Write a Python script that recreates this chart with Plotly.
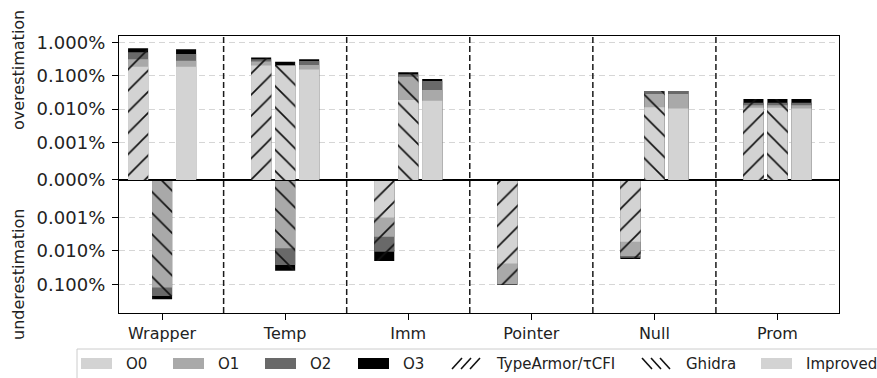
import plotly.graph_objects as go

# ---------------- data (values in %) ----------------
categories = ["Wrapper", "Temp", "Imm", "Pointer", "Null", "Prom"]
levels = ["O0", "O1", "O2", "O3"]
level_colors = ["#d3d3d3", "#a9a9a9", "#696969", "#000000"]
tools = ["TypeArmor/τCFI", "Ghidra", "Improved"]

# overestimation, per optimisation level (increment of each level)
ta_over_O0 = [0.187, 0.203, 0, 0, 0, 0.011]
ta_over_O1 = [0.126, 0.066, 0, 0, 0, 0.002]
ta_over_O2 = [0.194, 0.044, 0, 0, 0, 0.0025]
ta_over_O3 = [0.161, 0.041, 0, 0, 0, 0.0045]

gh_over_O0 = [0, 0.196, 0.0187, 0, 0.0113, 0.011]
gh_over_O1 = [0, 0.007, 0.075, 0, 0.0171, 0.002]
gh_over_O2 = [0, 0.007, 0.0173, 0, 0.0065, 0.0025]
gh_over_O3 = [0, 0.055, 0.016, 0, 0, 0.0045]

im_over_O0 = [0.187, 0.156, 0.0178, 0, 0.0105, 0.0105]
im_over_O1 = [0.097, 0.054, 0.0196, 0, 0.0179, 0.0025]
im_over_O2 = [0.167, 0.068, 0.0323, 0, 0.0065, 0.0025]
im_over_O3 = [0.173, 0.035, 0.0103, 0, 0, 0.0045]

# underestimation, per optimisation level
ta_under_O0 = [0, 0, 0.00098, 0.0236, 0.00528, 0]
ta_under_O1 = [0, 0, 0.00276, 0.0748, 0.0089, 0]
ta_under_O2 = [0, 0, 0.00681, 0.005, 0.0018, 0]
ta_under_O3 = [0, 0, 0.00945, 0.002, 0.0015, 0]

gh_under_O0 = [0, 0, 0, 0, 0, 0]
gh_under_O1 = [0.124, 0.00834, 0, 0, 0, 0]
gh_under_O2 = [0.101, 0.0182, 0, 0, 0, 0]
gh_under_O3 = [0.059, 0.0128, 0, 0, 0, 0]

im_under_O0 = [0, 0, 0, 0, 0, 0]
im_under_O1 = [0, 0, 0, 0, 0, 0]
im_under_O2 = [0, 0, 0, 0, 0, 0]
im_under_O3 = [0, 0, 0, 0, 0, 0]

tick_vals = [0.001, 0.01, 0.1, 1.0]
tick_text = ["0.001%", "0.010%", "0.100%", "1.000%"]

# ---------------- styling ----------------
W, H = 877, 378
ML, MR, MT, MB = 119, 38, 36, 65
PW, PH = W - ML - MR, H - MT - MB
FONT = "DejaVu Sans"
LOW = -4.13            # log10 of the value at the zero line
DECADE_PX = 33.3
SPLIT = 0.48           # paper fraction of the zero line
bar_w = 0.163
tool_offsets = [-0.195, 0.0, 0.195]
tool_hatch = ["/", "\\", ""]

over = {
    0: [ta_over_O0, ta_over_O1, ta_over_O2, ta_over_O3],
    1: [gh_over_O0, gh_over_O1, gh_over_O2, gh_over_O3],
    2: [im_over_O0, im_over_O1, im_over_O2, im_over_O3],
}
under = {
    0: [ta_under_O0, ta_under_O1, ta_under_O2, ta_under_O3],
    1: [gh_under_O0, gh_under_O1, gh_under_O2, gh_under_O3],
    2: [im_under_O0, im_under_O1, im_under_O2, im_under_O3],
}


def px_x(p):
    return (p - ML) / PW


def px_y(p):
    return (H - MB - p) / PH


fig = go.Figure()

for direction, data, xa, ya in [("over", over, "x2", "y2"), ("under", under, "x", "y")]:
    for t in range(len(tools)):
        series = data[t]
        cums = []
        run = [0.0] * len(categories)
        for k in range(len(levels)):
            run = [a + b for a, b in zip(run, series[k])]
            cums.append(list(run))
        # draw the tallest cumulative first, lower levels on top
        for k in reversed(range(len(levels))):
            yv = [v if v > 0 else None for v in cums[k]]
            pat = dict(shape=tool_hatch[t], fgcolor="#111111", fgopacity=1, size=15,
                       solidity=0.11, fillmode="overlay") if tool_hatch[t] else dict(shape="")
            fig.add_trace(go.Bar(
                x=categories, y=yv, xaxis=xa, yaxis=ya,
                offset=tool_offsets[t] - bar_w / 2, width=bar_w,
                marker=dict(color=level_colors[k], line=dict(width=0), pattern=pat),
                showlegend=False, hoverinfo="skip",
            ))

axis_font = dict(family=FONT, size=18, color="#222222")
common_y = dict(type="log", showline=True, mirror=True, linecolor="black", linewidth=1.3,
                ticks="outside", ticklen=6, tickwidth=1.2, tickcolor="black",
                ticklabelstandoff=3,
                showgrid=True, gridcolor="#d6d6d6", gridwidth=1.3, griddash="6px,4px",
                zeroline=False, tickfont=axis_font, tickmode="array")

fig.update_layout(
    width=W, height=H,
    margin=dict(l=ML, r=MR, t=MT, b=MB),
    paper_bgcolor="white", plot_bgcolor="white",
    barmode="overlay",
    font=dict(family=FONT, color="#222222"),
    xaxis=dict(domain=[0, 1], anchor="y", type="category", categoryorder="array",
               categoryarray=categories, range=[-0.35, 5.5],
               showline=True, mirror=True, linecolor="black", linewidth=1.3,
               ticks="outside", ticklen=6, tickwidth=1.2, tickcolor="black",
               showgrid=False, tickfont=dict(family=FONT, size=16, color="#222222")),
    xaxis2=dict(domain=[0, 1], anchor="y2", type="category", categoryorder="array",
                categoryarray=categories, range=[-0.35, 5.5],
                showline=True, mirror=True, linecolor="black", linewidth=1.3,
                ticks="", showticklabels=False, showgrid=False),
    yaxis=dict(domain=[0, SPLIT], anchor="x",
               range=[LOW + PH * SPLIT / DECADE_PX, LOW],
               tickvals=tick_vals[:3], ticktext=tick_text[:3], **common_y),
    yaxis2=dict(domain=[SPLIT, 1], anchor="x2",
                range=[LOW, LOW + PH * (1 - SPLIT) / DECADE_PX],
                tickvals=[10 ** (LOW + 0.002)] + tick_vals,
                ticktext=["0.000%"] + tick_text, **common_y),
)

# vertical dashed separators between categories
for i in range(len(categories) - 1):
    fig.add_shape(type="line", xref="x", yref="paper", x0=i + 0.5, x1=i + 0.5, y0=0, y1=1,
                  line=dict(color="#1a1a1a", width=1.5, dash="6px,3px"))

# axis titles
fig.add_annotation(text="overestimation", xref="paper", yref="paper", x=px_x(18), y=px_y(70),
                   xanchor="center", yanchor="middle",
                   textangle=-90, showarrow=False, font=dict(family=FONT, size=16, color="#222222"))
fig.add_annotation(text="underestimation", xref="paper", yref="paper", x=px_x(18), y=px_y(275),
                   xanchor="center", yanchor="middle",
                   textangle=-90, showarrow=False, font=dict(family=FONT, size=16, color="#222222"))

# legend (drawn manually to match swatch size)
fig.add_shape(type="rect", xref="paper", yref="paper", x0=px_x(77), x1=px_x(890),
              y0=px_y(349), y1=px_y(392), line=dict(color="#cccccc", width=1), fillcolor="white")
legend_items = [
    ("O0", level_colors[0], ""),
    ("O1", level_colors[1], ""),
    ("O2", level_colors[2], ""),
    ("O3", level_colors[3], ""),
    (tools[0], "white", "/"),
    (tools[1], "white", "\\"),
    (tools[2], level_colors[0], ""),
]
swatch_x = [81, 173, 265, 358, 451, 641, 761]
sw_top, sw_bot = 358, 369
for (label, color, hatch), sx in zip(legend_items, swatch_x):
    fig.add_shape(type="rect", xref="paper", yref="paper", x0=px_x(sx), x1=px_x(sx + 31),
                  y0=px_y(sw_bot), y1=px_y(sw_top), line=dict(width=0), fillcolor=color)
    if hatch:
        for k in (1, 10, 19):
            if hatch == "/":
                xa0, xa1 = sx + k, sx + k + 10
            else:
                xa0, xa1 = sx + k + 10, sx + k
            fig.add_shape(type="line", xref="paper", yref="paper",
                          x0=px_x(xa0), x1=px_x(xa1), y0=px_y(sw_bot), y1=px_y(sw_top),
                          line=dict(color="#111111", width=1.6))
    fig.add_annotation(text=label, xref="paper", yref="paper", x=px_x(sx + 43),
                       y=px_y((sw_top + sw_bot) / 2), xanchor="left", yanchor="middle",
                       showarrow=False, font=dict(family=FONT, size=15, color="#222222"))

fig.write_html("out.html")
